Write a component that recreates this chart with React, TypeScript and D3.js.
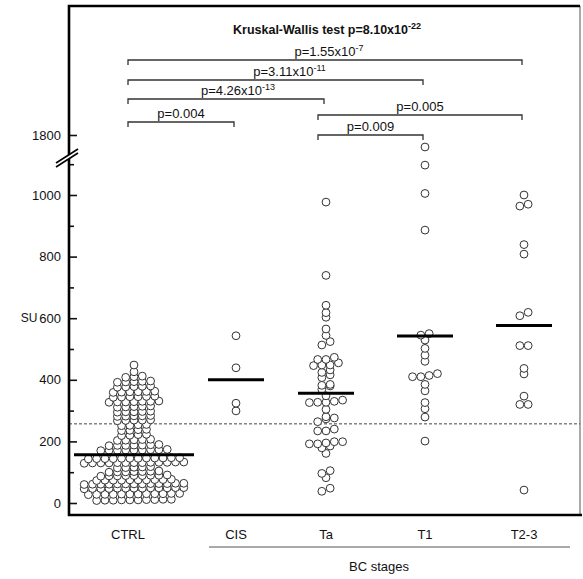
import React, { useEffect, useRef } from "react";
import * as d3 from "d3";

const categories = ["CTRL", "CIS", "Ta", "T1", "T2-3"];

// values (SU)
const ctrlValues = [
  8, 9, 9, 10, 10, 11, 11, 12, 12, 10,
  27, 28, 28, 29, 29, 29, 30, 30, 31, 31, 28, 30,
  46, 47, 47, 48, 48, 48, 49, 49, 50, 50, 47, 49, 48,
  60, 61, 61, 62, 62, 62, 63, 63, 64, 64, 61, 63, 62,
  73, 74, 74, 75, 75, 76, 76, 77, 75, 74,
  87, 88, 88, 89, 89, 90, 90, 91, 89,
  100, 101, 102, 102, 103, 104, 101,
  114, 115, 116, 117, 118,
  129, 130, 130, 131, 131, 131, 132, 132, 133, 133, 130, 132, 131,
  143, 144, 144, 145, 145, 146, 146, 147, 147, 144, 146, 145,
  170, 171, 171, 172, 172, 173, 173, 174, 172,
  186, 187, 188, 188, 189, 190, 187,
  203, 204, 205, 206, 207,
  219, 220, 222, 223,
  235, 236, 238, 239,
  251, 252, 254, 255,
  267, 268, 269, 269, 270,
  281, 282, 283, 283, 284,
  295, 296, 296, 297, 298,
  311, 312, 313, 314, 315,
  327, 328, 328, 329, 330, 330, 331,
  343, 344, 345, 345, 346, 347,
  359, 360, 361, 361, 362, 363,
  376, 377, 378, 379, 380,
  392, 393, 394, 395, 396,
  408, 410, 412,
  426,
  448,
];
const cisValues = [543, 439, 324, 299];
const taValues = [
  977, 739, 642, 618, 603, 565, 544, 513, 524, 466, 466, 473, 446, 448, 448,
  455, 432, 424, 407, 416, 385, 382, 380, 369, 348, 326, 327, 327, 330, 334,
  304, 280, 264, 273, 276, 234, 234, 240, 199, 195, 192, 199, 192, 179, 185,
  161, 96, 105, 82, 38, 48,
];
const t1Values = [
  1650, 1097, 1005, 886, 550, 545, 529, 502, 480, 460, 420, 414, 410, 410, 385,
  364, 326, 306, 279, 201,
];
const t23Values = [
  1000, 964, 970, 839, 808, 608, 619, 511, 511, 437, 419, 347, 320, 320, 42,
];
const groupValues = [ctrlValues, cisValues, taValues, t1Values, t23Values];

// horizontal mean bars
const meanValues = [157, 400, 356, 542, 576];

const majorTicks = [0, 200, 400, 600, 800, 1000];
const minorTicks = [100, 300, 500, 700, 900, 1100];
const upperTicks = [1800];
const cutoff = 257;

const title = ["Kruskal-Wallis test p=8.10x10", "-22"];
const bracketFrom = ["CTRL", "CTRL", "CTRL", "CTRL", "Ta", "Ta"];
const bracketTo = ["T2-3", "T1", "Ta", "CIS", "T2-3", "T1"];
const bracketText = ["p=1.55x10", "p=3.11x10", "p=4.26x10", "p=0.004", "p=0.005", "p=0.009"];
const bracketExp = ["-7", "-11", "-13", "", "", ""];
const bracketY = [60, 80, 99, 122, 115, 135];
const bracketShift = [4, 14, 12, 0, 0, 0];

const W = 583;
const H = 579;
const FONT = "'Liberation Sans', Arial, sans-serif";

function rowLayout(values, spacing) {
  const sorted = values.slice().sort((a, b) => a - b);
  const rows = [];
  let row = [];
  sorted.forEach(v => {
    if (row.length && v - row[0] > 12) {
      rows.push(row);
      row = [];
    }
    row.push(v);
  });
  if (row.length) rows.push(row);
  const out = [];
  rows.forEach(r =>
    r.forEach((v, i) => out.push({ v, dx: (i - (r.length - 1) / 2) * spacing }))
  );
  return out;
}

export default function App() {
  const ref = useRef(null);

  useEffect(() => {
    const svg = d3.select(ref.current);
    svg.html("");

    const left = 69,
      right = 580,
      top = 6,
      bottom = 515;

    const x = d3.scaleOrdinal(categories, [134, 236, 326, 425, 524]);
    const yLow = d3.scaleLinear().domain([0, 1000]).range([503, 195]);
    const yUp = d3.scaleLinear().domain([1550, 1800]).range([155, 135]);
    const y = v => (v > 1500 ? yUp(v) : yLow(v));
    const fmt = d3.format("d");

    // axes
    const axG = svg.append("g").attr("transform", `translate(${left},0)`);
    axG
      .append("g")
      .call(d3.axisLeft(yLow).tickValues(majorTicks).tickSize(-8).tickPadding(8).tickFormat(fmt))
      .call(g => g.select(".domain").remove());
    axG
      .append("g")
      .call(d3.axisLeft(yLow).tickValues(minorTicks).tickSize(-5).tickFormat(() => ""))
      .call(g => g.select(".domain").remove());
    axG
      .append("g")
      .call(d3.axisLeft(yUp).tickValues(upperTicks).tickSize(-8).tickPadding(8).tickFormat(fmt))
      .call(g => g.select(".domain").remove());
    axG.selectAll(".tick line").attr("stroke", "#111").attr("stroke-width", 1.6);
    axG
      .selectAll(".tick text")
      .attr("font-family", FONT)
      .attr("font-size", 13)
      .attr("fill", "#111");

    // dashed cut-off
    svg
      .append("line")
      .attr("x1", left)
      .attr("x2", right)
      .attr("y1", yLow(cutoff))
      .attr("y2", yLow(cutoff))
      .attr("stroke", "#444")
      .attr("stroke-width", 1)
      .attr("stroke-dasharray", "3,2");

    // points
    groupValues.forEach((vals, gi) => {
      const cx = x(categories[gi]);
      svg
        .append("g")
        .selectAll("circle")
        .data(rowLayout(vals, 8.3))
        .join("circle")
        .attr("cx", d => cx + d.dx)
        .attr("cy", d => y(d.v))
        .attr("r", 3.9)
        .attr("fill", "white")
        .attr("stroke", "#333")
        .attr("stroke-width", 1);
    });

    // mean bars
    meanValues.forEach((m, i) => {
      const cx = x(categories[i]);
      const hw = i === 0 ? 60 : 28;
      svg
        .append("line")
        .attr("x1", cx - hw)
        .attr("x2", cx + hw)
        .attr("y1", yLow(m))
        .attr("y2", yLow(m))
        .attr("stroke", "#000")
        .attr("stroke-width", 3);
    });

    // frame
    const frame = svg.append("g").attr("fill", "none");
    frame
      .append("line")
      .attr("x1", right)
      .attr("x2", right)
      .attr("y1", top)
      .attr("y2", bottom)
      .attr("stroke", "#555")
      .attr("stroke-width", 1);
    frame
      .append("path")
      .attr("d", `M${right},${top}H${left}V${bottom}H${right + 2}`)
      .attr("stroke", "#000")
      .attr("stroke-width", 2.6);

    // axis break
    svg
      .append("polygon")
      .attr("points", "57,163 77,150 77,153.5 57,166.5")
      .attr("fill", "white");
    [0, 4].forEach(o =>
      svg
        .append("line")
        .attr("x1", 56)
        .attr("y1", 163 - o + 4)
        .attr("x2", 78)
        .attr("y2", 149 - o + 4)
        .attr("stroke", "#000")
        .attr("stroke-width", 1.6)
    );

    // title
    const t = svg
      .append("text")
      .attr("x", 327)
      .attr("y", 34)
      .attr("text-anchor", "middle")
      .attr("font-family", FONT)
      .attr("font-size", 12.5)
      .attr("font-weight", "bold")
      .attr("fill", "#111");
    t.append("tspan").text(title[0]);
    t.append("tspan").attr("dy", -5).attr("font-size", 9).text(title[1]);

    // brackets
    bracketFrom.forEach((f, i) => {
      const x1 = x(f) - (f === "Ta" ? 8 : 6);
      const x2 = x(bracketTo[i]) - 2;
      const by = bracketY[i];
      svg
        .append("path")
        .attr("d", `M${x1},${by + 5}V${by}H${x2}V${by + 5}`)
        .attr("fill", "none")
        .attr("stroke", "#333")
        .attr("stroke-width", 1.3);
      const lt = svg
        .append("text")
        .attr("x", (x1 + x2) / 2 + bracketShift[i])
        .attr("y", by - 4)
        .attr("text-anchor", "middle")
        .attr("font-family", FONT)
        .attr("font-size", 13)
        .attr("fill", "#111");
      lt.append("tspan").text(bracketText[i]);
      if (bracketExp[i])
        lt.append("tspan").attr("dy", -5).attr("font-size", 9).text(bracketExp[i]);
    });

    // x labels
    svg
      .append("g")
      .selectAll("text")
      .data(categories)
      .join("text")
      .attr("x", d => (d === "CTRL" ? x(d) - 6 : x(d)))
      .attr("y", 539)
      .attr("text-anchor", "middle")
      .attr("font-family", FONT)
      .attr("font-size", 13)
      .attr("fill", "#111")
      .text(d => d);

    svg
      .append("line")
      .attr("x1", 209)
      .attr("x2", 570)
      .attr("y1", 547)
      .attr("y2", 547)
      .attr("stroke", "#555")
      .attr("stroke-width", 1);
    svg
      .append("text")
      .attr("x", 379)
      .attr("y", 571)
      .attr("text-anchor", "middle")
      .attr("font-family", FONT)
      .attr("font-size", 13)
      .attr("fill", "#111")
      .text("BC stages");

    svg
      .append("text")
      .attr("x", 29)
      .attr("y", 322)
      .attr("text-anchor", "middle")
      .attr("font-family", FONT)
      .attr("font-size", 12)
      .attr("fill", "#111")
      .text("SU");
  }, []);

  return (
    <svg
      ref={ref}
      width={W}
      height={H}
      style={{ position: "absolute", left: 0, top: 0, background: "white" }}
    />
  );
}
